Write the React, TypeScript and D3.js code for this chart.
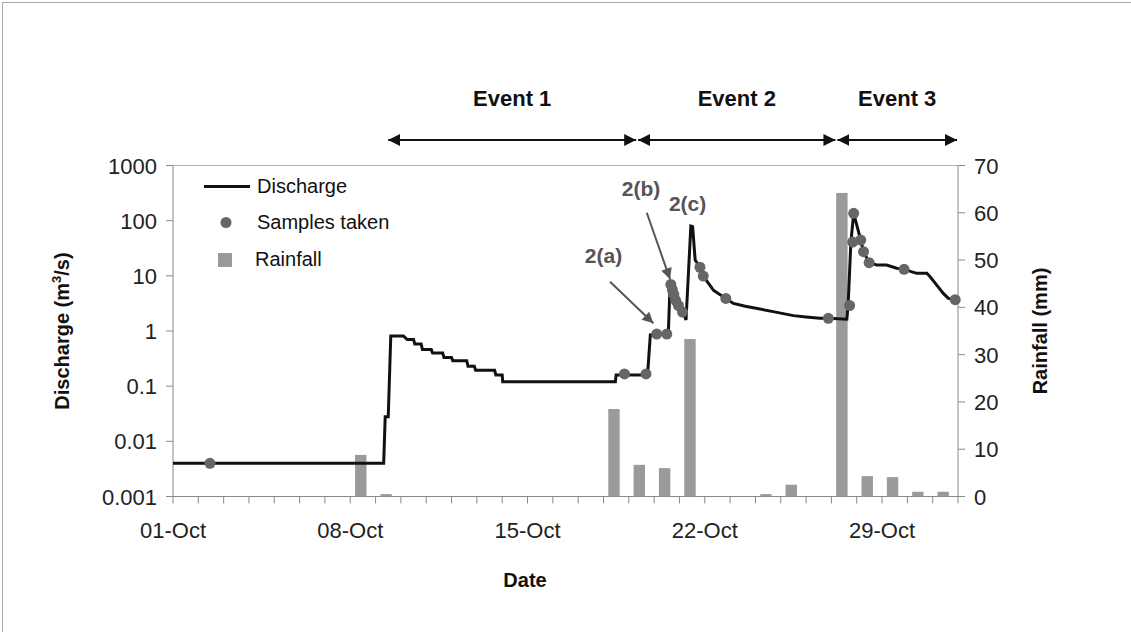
import React from "react";
import * as d3 from "d3";

// days since 01-Oct 00:00, discharge in m3/s
const dischargeDays = [0, 8.32, 8.38, 8.5, 8.6, 9.1, 9.25, 9.5, 9.55, 9.8, 9.85, 10.2, 10.25, 10.65, 10.7, 11.0, 11.05, 11.6, 11.65, 11.9, 11.95, 12.7, 12.75, 13.0, 13.02, 17.47, 17.5, 18.74, 18.85, 19.56, 19.63, 19.7, 19.76, 19.83, 19.96, 20.13, 20.26, 20.45, 20.52, 20.62, 20.81, 20.94, 21.34, 21.83, 22.13, 22.6, 23.18, 23.8, 24.5, 25.0, 25.55, 25.88, 26.61, 26.66, 26.77, 26.88, 27.16, 27.27, 27.49, 27.79, 28.18, 28.58, 28.87, 29.37, 29.77, 29.9, 30.16, 30.42, 30.62, 30.89, 31];
const dischargeValues = [0.004, 0.004, 0.028, 0.028, 0.81, 0.81, 0.7, 0.7, 0.58, 0.58, 0.46, 0.46, 0.4, 0.4, 0.33, 0.33, 0.29, 0.29, 0.23, 0.23, 0.195, 0.195, 0.16, 0.16, 0.12, 0.12, 0.16, 0.16, 0.85, 0.88, 7.3, 6.8, 5.2, 3.9, 2.96, 2.24, 1.58, 80, 78, 19.4, 14.3, 9.9, 5.5, 3.9, 3.16, 2.8, 2.5, 2.2, 1.9, 1.8, 1.7, 1.7, 1.63, 2.9, 41, 136, 44.5, 27.4, 17.3, 15.7, 15.7, 13.7, 13.1, 11.1, 11.1, 9.6, 6.8, 4.8, 3.9, 3.7, 3.7];

const sampleDays = [1.46, 17.83, 18.68, 19.1, 19.5, 19.66, 19.72, 19.78, 19.85, 19.96, 20.12, 20.81, 20.94, 21.83, 25.88, 26.72, 26.84, 26.88, 27.16, 27.27, 27.49, 28.87, 30.89];
const sampleValues = [0.004, 0.167, 0.167, 0.88, 0.88, 7.0, 5.6, 4.6, 3.6, 2.9, 2.2, 14.3, 9.9, 3.9, 1.7, 2.9, 41, 136, 44.5, 27.4, 17.3, 13.1, 3.7];

// daily rainfall (mm), day index from 01-Oct
const rainDays = [7, 8, 17, 18, 19, 20, 23, 24, 26, 27, 28, 29, 30];
const rainValues = [8.8, 0.5, 18.5, 6.7, 6.0, 33.3, 0.5, 2.5, 64.2, 4.3, 4.1, 1.0, 1.0];

const dateTickDays = [0, 7, 14, 21, 28];
const dateTickLabels = ["01-Oct", "08-Oct", "15-Oct", "22-Oct", "29-Oct"];
const qTicks = [0.001, 0.01, 0.1, 1, 10, 100, 1000];
const qTickLabels = ["0.001", "0.01", "0.1", "1", "10", "100", "1000"];
const rainTicks = [0, 10, 20, 30, 40, 50, 60, 70];

const eventNames = ["Event 1", "Event 2", "Event 3"];
const eventBounds = [8.46, 18.33, 26.2, 31];

const noteLabels = ["2(a)", "2(b)", "2(c)"];
const noteTextDay = [17.0, 18.48, 20.32];
const noteTextQ = [23.8, 390, 209];
const noteFrom = [[17.26, 7.8], [18.71, 139], null];
const noteTo = [[18.97, 1.38], [19.63, 8.65], null];

const FONT = "'Liberation Sans', Arial, sans-serif";

export default function App() {
  const W = 1131, H = 632;
  const left = 173, right = 958, top = 165.5, bottom = 496.5;

  const x = d3.scaleLinear().domain([0, 31]).range([left, right]);
  const yQ = d3.scaleLog().domain([0.001, 1000]).range([bottom, top]);
  const yR = d3.scaleLinear().domain([0, 70]).range([bottom, top]);

  const line = d3.line<number>()
    .x(i => x(dischargeDays[i]))
    .y(i => yQ(dischargeValues[i]));
  const path = line(d3.range(dischargeDays.length)) || "";

  const axisCol = "#8a8a8a";

  return (
    <div style={{ position: "absolute", left: 0, top: 0 }}>
      <svg width={W} height={H} style={{ display: "block", background: "#fff" }} fontFamily={FONT}>
        <defs>
          <marker id="evA" viewBox="0 0 10 10" refX="10" refY="5" markerWidth="6" markerHeight="6" orient="auto-start-reverse" markerUnits="strokeWidth">
            <path d="M0,0 L10,5 L0,10 z" fill="#111" />
          </marker>
          <marker id="noteA" viewBox="0 0 10 10" refX="10" refY="5" markerWidth="6" markerHeight="5.5" orient="auto" markerUnits="strokeWidth">
            <path d="M0,0 L10,5 L0,10 z" fill="#555" />
          </marker>
        </defs>

        {/* outer frame */}
        <rect x={2.5} y={2.5} width={W + 20} height={H + 20} fill="none" stroke="#a8a8a8" strokeWidth={1} />

        {/* plot box */}
        <line x1={left} x2={right} y1={top} y2={top} stroke="#b0b0b0" />
        <line x1={left} x2={left} y1={top} y2={bottom} stroke={axisCol} />
        <line x1={right} x2={right} y1={top} y2={bottom} stroke={axisCol} />
        <line x1={left} x2={right} y1={bottom} y2={bottom} stroke={axisCol} />

        {/* rainfall bars */}
        {rainDays.map((d, i) => (
          <rect key={"r" + i} x={x(d + 0.19)} width={x(0.45) - x(0)} y={yR(rainValues[i])}
            height={yR(0) - yR(rainValues[i])} fill="#9a9a9a" />
        ))}

        {/* x ticks */}
        {d3.range(0, 32).map(d => (
          <line key={"xt" + d} x1={x(d)} x2={x(d)} y1={bottom} y2={bottom + 7} stroke={axisCol} />
        ))}
        {dateTickDays.map((d, i) => (
          <text key={"xl" + i} x={x(d)} y={538} textAnchor="middle" fontSize={22} fill="#222">{dateTickLabels[i]}</text>
        ))}

        {/* left axis */}
        {qTicks.map((t, i) => (
          <g key={"yq" + i}>
            <line x1={left - 7} x2={left} y1={yQ(t)} y2={yQ(t)} stroke={axisCol} />
            <text x={157} y={yQ(t) + 8} textAnchor="end" fontSize={22} fill="#222">{qTickLabels[i]}</text>
          </g>
        ))}

        {/* right axis */}
        {rainTicks.map((t, i) => (
          <g key={"yr" + i}>
            <line x1={right} x2={right + 7} y1={yR(t)} y2={yR(t)} stroke={axisCol} />
            <text x={974} y={yR(t) + 8} textAnchor="start" fontSize={22} fill="#222">{t}</text>
          </g>
        ))}

        {/* axis titles */}
        <text transform={`translate(69,${(top + bottom) / 2}) rotate(-90)`} textAnchor="middle" fontSize={20} fontWeight="bold" fill="#111">
          Discharge (m<tspan dy={-8} fontSize={13}>3</tspan><tspan dy={8}>/s)</tspan>
        </text>
        <text transform={`translate(1047,${(top + bottom) / 2}) rotate(-90)`} textAnchor="middle" fontSize={20} fontWeight="bold" fill="#111">
          Rainfall (mm)
        </text>
        <text x={525} y={587} textAnchor="middle" fontSize={20} fontWeight="bold" fill="#111">Date</text>

        {/* discharge */}
        <path d={path} fill="none" stroke="#111" strokeWidth={3} strokeLinejoin="miter" />

        {/* samples */}
        {sampleDays.map((d, i) => (
          <circle key={"s" + i} cx={x(d)} cy={yQ(sampleValues[i])} r={5.5} fill="#666" />
        ))}

        {/* annotations */}
        {noteLabels.map((lab, i) => (
          <g key={"n" + i}>
            <text x={x(noteTextDay[i])} y={yQ(noteTextQ[i]) + 8} textAnchor="middle" fontSize={21} fontWeight="bold" fill="#555">{lab}</text>
            {noteFrom[i] && noteTo[i] && (
              <line x1={x(noteFrom[i]![0])} y1={yQ(noteFrom[i]![1])} x2={x(noteTo[i]![0])} y2={yQ(noteTo[i]![1])}
                stroke="#555" strokeWidth={2} markerEnd="url(#noteA)" />
            )}
          </g>
        ))}

        {/* events */}
        {eventNames.map((name, i) => {
          const a = x(eventBounds[i]), b = x(eventBounds[i + 1]);
          return (
            <g key={"e" + i}>
              <line x1={a + 1} x2={b - 1} y1={140} y2={140} stroke="#111" strokeWidth={2}
                markerStart="url(#evA)" markerEnd="url(#evA)" />
              <text x={(a + b) / 2} y={106} textAnchor="middle" fontSize={22} fontWeight="bold" fill="#111">{name}</text>
            </g>
          );
        })}

        {/* legend */}
        <line x1={204} x2={250} y1={yQ(1000) + 21} y2={yQ(1000) + 21} stroke="#111" strokeWidth={3} />
        <text x={257} y={193} fontSize={20} fill="#111">Discharge</text>
        <circle cx={226} cy={222.5} r={5.5} fill="#666" />
        <text x={257} y={229} fontSize={20} fill="#111">Samples taken</text>
        <rect x={218} y={253} width={14} height={14} fill="#9a9a9a" />
        <text x={255} y={266} fontSize={20} fill="#111">Rainfall</text>
      </svg>
    </div>
  );
}
